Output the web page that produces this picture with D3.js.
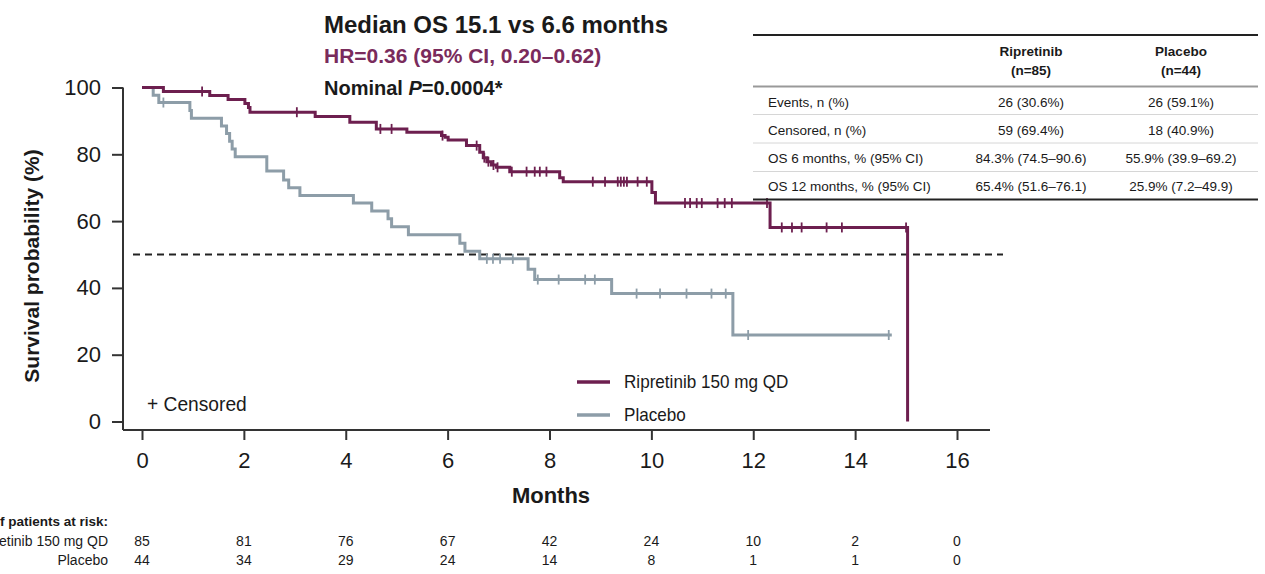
<!DOCTYPE html>
<html>
<head>
<meta charset="utf-8">
<script src="https://cdn.jsdelivr.net/npm/d3@7"></script>
<style>
  body { margin: 0; background: #fff; }
  svg { display: block; font-family: "Liberation Sans", Arial, Helvetica, sans-serif; }
</style>
</head>
<body>
<svg id="chart" width="1265" height="574"></svg>
<script>
// ---- Kaplan–Meier data (months, % surviving after each event) ----
const ripTimes = [0, 0.42, 1.33, 1.69, 2.02, 2.09, 2.12, 3.40, 4.08, 4.60, 5.20, 5.88, 5.95, 6.01, 6.37,
                  6.63, 6.70, 6.77, 6.86, 6.96, 7.22, 8.20, 8.27, 10.01, 10.08, 12.33, 15.03];
const ripSurv  = [100, 98.8, 97.6, 96.4, 95.2, 94.0, 92.6, 91.3, 89.6, 87.6, 86.6, 85.6, 85.1, 84.3, 82.6,
                  80.6, 79.0, 77.8, 76.8, 76.1, 74.8, 73.0, 71.8, 68.6, 65.4, 58.1, 0];
const ripCensored = [1.18, 3.04, 4.68, 4.90, 5.90, 6.57, 6.72, 6.80, 6.90, 6.98, 7.26, 7.55, 7.71, 7.81, 7.94,
                     8.85, 9.09, 9.34, 9.40, 9.46, 9.52, 9.73, 9.91, 10.66, 10.76, 10.89, 10.99, 11.30, 11.44,
                     11.58, 12.27, 12.56, 12.76, 12.95, 13.44, 13.74, 15.00];

const pboTimes = [0, 0.22, 0.33, 0.94, 0.97, 1.56, 1.66, 1.72, 1.77, 1.83, 2.45, 2.78, 2.88, 3.10, 4.15,
                  4.51, 4.83, 4.90, 5.23, 6.24, 6.34, 6.63, 7.58, 7.71, 9.22, 11.60];
const pboSurv  = [100, 97.7, 95.5, 93.1, 90.8, 88.5, 86.2, 83.9, 81.6, 79.3, 75.0, 72.3, 70.0, 67.7, 65.4,
                  63.0, 60.7, 58.3, 55.9, 53.4, 51.0, 48.7, 45.6, 42.5, 38.3, 25.9];
const pboCensored = [0.42, 6.77, 6.89, 7.03, 7.28, 7.77, 8.18, 8.70, 8.89, 9.71, 10.17, 10.69, 11.18, 11.46,
                     11.90, 14.66];
const pboLastFollowUp = 14.72;

// ---- axes ----
const xTicks = [0, 2, 4, 6, 8, 10, 12, 14, 16];
const yTicks = [0, 20, 40, 60, 80, 100];
const medianLevel = 50;

// ---- patients at risk ----
const riskMonths = [0, 2, 4, 6, 8, 10, 12, 14, 16];
const riskRip = [85, 81, 76, 67, 42, 24, 10, 2, 0];
const riskPbo = [44, 34, 29, 24, 14, 8, 1, 1, 0];
const riskLabels = ["Ripretinib 150 mg QD", "Placebo"];

// ---- summary table ----
const tableHeadRip = ["Ripretinib", "(n=85)"];
const tableHeadPbo = ["Placebo", "(n=44)"];
const tableRowLabels = ["Events, n (%)", "Censored, n (%)", "OS 6 months, % (95% CI)", "OS 12 months, % (95% CI)"];
const tableRip = ["26 (30.6%)", "59 (69.4%)", "84.3% (74.5–90.6)", "65.4% (51.6–76.1)"];
const tablePbo = ["26 (59.1%)", "18 (40.9%)", "55.9% (39.9–69.2)", "25.9% (7.2–49.9)"];

const legendLabels = ["Ripretinib 150 mg QD", "Placebo"];
const COL_RIP = "#6d1f4f";
const COL_PBO = "#8d9da8";
const INK = "#1a1a1a";

const svg = d3.select("#chart");

const x = d3.scaleLinear().domain([0, 16]).range([142, 957]);
const y = d3.scaleLinear().domain([0, 100]).range([421.5, 87.5]);
const axisX = 123, axisY = 430, axisRight = 990;

// text helper: anchored at (px,py), optionally condensed horizontally
function label(g, txt, px, py, o = {}) {
  return g.append("text")
    .attr("transform", `translate(${px},${py}) scale(${o.k || 1},1)`)
    .attr("text-anchor", o.anchor || "start")
    .attr("font-size", o.size || 16)
    .attr("font-weight", o.weight || "normal")
    .attr("font-style", o.style || "normal")
    .attr("fill", o.fill || INK)
    .text(txt);
}

// ---- axis frame ----
svg.append("line").attr("x1", axisX).attr("x2", axisX).attr("y1", y(100)).attr("y2", axisY)
  .attr("stroke", "#333").attr("stroke-width", 2);
svg.append("line").attr("x1", axisX).attr("x2", axisRight).attr("y1", axisY).attr("y2", axisY)
  .attr("stroke", "#333").attr("stroke-width", 2);

const gy = svg.append("g").attr("transform", `translate(${axisX},0)`)
  .call(d3.axisLeft(y).tickValues(yTicks).tickSize(11).tickPadding(11));
gy.select(".domain").remove();
gy.selectAll(".tick line").attr("stroke", "#333").attr("stroke-width", 2);

const gx = svg.append("g").attr("transform", `translate(0,${axisY})`)
  .call(d3.axisBottom(x).tickValues(xTicks).tickSize(10).tickPadding(12));
gx.select(".domain").remove();
gx.selectAll(".tick line").attr("stroke", "#333").attr("stroke-width", 2);

[gx, gy].forEach(g => g.attr("font-family", null).attr("font-size", null));
svg.selectAll(".tick text").attr("font-size", 22).attr("fill", INK);

// axis titles
label(svg, "Months", 551, 503, { anchor: "middle", size: 22, weight: "bold" });
svg.append("text")
  .attr("transform", `translate(39,266) rotate(-90)`)
  .attr("text-anchor", "middle").attr("font-size", 21).attr("font-weight", "bold").attr("fill", INK)
  .text("Survival probability (%)");

// ---- median reference line ----
svg.append("line")
  .attr("x1", axisX + 10).attr("x2", axisRight + 13)
  .attr("y1", y(medianLevel)).attr("y2", y(medianLevel))
  .attr("stroke", "#222").attr("stroke-width", 2).attr("stroke-dasharray", "7,5");

// ---- survival curves ----
const step = d3.line().x(d => x(d[0])).y(d => y(d[1])).curve(d3.curveStepAfter);
const survAt = (times, surv) => t => surv[d3.bisectRight(times, t) - 1];

const ripPts = ripTimes.map((t, i) => [t, ripSurv[i]]);
const pboPts = pboTimes.map((t, i) => [t, pboSurv[i]]).concat([[pboLastFollowUp, pboSurv[pboSurv.length - 1]]]);

svg.append("path").attr("d", step(pboPts)).attr("fill", "none")
  .attr("stroke", COL_PBO).attr("stroke-width", 3);
svg.append("path").attr("d", step(ripPts)).attr("fill", "none")
  .attr("stroke", COL_RIP).attr("stroke-width", 3);

function censorMarks(times, surv, cens, col) {
  const f = survAt(times, surv);
  svg.append("g").selectAll("line").data(cens).join("line")
    .attr("x1", d => x(d)).attr("x2", d => x(d))
    .attr("y1", d => y(f(d)) - 5).attr("y2", d => y(f(d)) + 5)
    .attr("stroke", col).attr("stroke-width", 1.8);
}
censorMarks(pboTimes, pboSurv, pboCensored, COL_PBO);
censorMarks(ripTimes, ripSurv, ripCensored, COL_RIP);

// ---- annotations ----
label(svg, "Median OS 15.1 vs 6.6 months", 324, 33, { size: 24, weight: "bold" });
label(svg, "HR=0.36 (95% CI, 0.20–0.62)", 324, 63, { size: 21, weight: "bold", fill: "#7a2b5c" });
const pv = svg.append("text").attr("transform", "translate(324,95)")
  .attr("font-size", 20).attr("font-weight", "bold").attr("fill", INK);
pv.append("tspan").text("Nominal ");
pv.append("tspan").attr("font-style", "italic").text("P");
pv.append("tspan").text("=0.0004*");

label(svg, "+ Censored", 147, 411, { size: 20, k: 0.96 });

// legend
const legendColors = [COL_RIP, COL_PBO];
const lg = svg.append("g");
legendLabels.forEach((t, i) => {
  const ly = 382 + i * 33;
  lg.append("line").attr("x1", 577).attr("x2", 610).attr("y1", ly).attr("y2", ly)
    .attr("stroke", legendColors[i]).attr("stroke-width", 3.5);
  label(lg, t, 624, ly + 6, { size: 18, k: 0.95 });
});

// ---- summary table ----
const tb = svg.append("g");
const tL = 753, tR = 1258, colRip = 1031, colPbo = 1181, rowLabelX = 768;
tb.append("line").attr("x1", tL).attr("x2", tR).attr("y1", 35).attr("y2", 35).attr("stroke", "#222").attr("stroke-width", 2.2);
tb.append("line").attr("x1", tL).attr("x2", tR).attr("y1", 86.5).attr("y2", 86.5).attr("stroke", "#999").attr("stroke-width", 1.8);
tb.append("line").attr("x1", tL).attr("x2", tR).attr("y1", 199.5).attr("y2", 199.5).attr("stroke", "#222").attr("stroke-width", 2.2);
[114.5, 143, 171.5].forEach(ly =>
  tb.append("line").attr("x1", tL).attr("x2", tR).attr("y1", ly).attr("y2", ly).attr("stroke", "#d6d6d6").attr("stroke-width", 1));
[tableHeadRip, tableHeadPbo].forEach((h, c) => {
  const cx = c === 0 ? colRip : colPbo;
  h.forEach((t, j) => label(tb, t, cx, 55.5 + j * 19.5, { anchor: "middle", size: 13.5, weight: "bold" }));
});
tableRowLabels.forEach((t, i) => {
  const ry = 106.5 + i * 28.3;
  label(tb, t, rowLabelX, ry, { size: 13.5 });
  label(tb, tableRip[i], colRip, ry, { anchor: "middle", size: 13.5 });
  label(tb, tablePbo[i], colPbo, ry, { anchor: "middle", size: 13.5 });
});

// ---- patients at risk ----
const rk = svg.append("g");
label(rk, "No. of patients at risk:", 108, 526, { anchor: "end", size: 13.5, weight: "bold" });
[riskRip, riskPbo].forEach((vals, r) => {
  const ry = 546 + r * 19;
  label(rk, riskLabels[r], 108, ry, { anchor: "end", size: 14 });
  riskMonths.forEach((m, i) => label(rk, vals[i], x(m), ry, { anchor: "middle", size: 14 }));
});
</script>
</body>
</html>
